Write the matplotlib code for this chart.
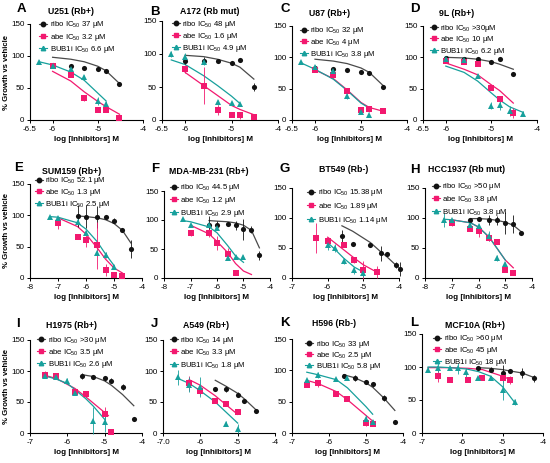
import matplotlib
matplotlib.use("Agg")
import matplotlib.pyplot as plt
from matplotlib.lines import Line2D

plt.rcParams['font.family'] = ['Liberation Sans', 'DejaVu Sans']
plt.rcParams['mathtext.default'] = 'regular'

W, H = 550, 463

# colours
RIBO_C, RIBO_L = '#121212', '#4a4a4a'
ABE_C, ABE_L = '#f2196f', '#f2196f'
BUB_C, BUB_L = '#17a09c', '#17a09c'

# ---- data: x = log M, y = % growth, e = error, fit = curve height ----
# A  U251
A_ribo = dict(x=[-6, -5.6, -5.3, -5, -4.82, -4.52], y=[86, 85, 81, 79, 77, 56], e=[3, 3, 3, 3, 2, 2],
              fit=[98, 95, 91, 84, 77, 57])
A_abe = dict(x=[-6, -5.6, -5.3, -5, -4.82, -4.52], y=[84, 71, 34, 16, 16, 3], e=[3, 4, 4, 3, 3, 2],
             fit=[76, 61, 44, 29, 21, 9])
A_bub = dict(x=[-6.3, -6, -5.6, -5.3, -5, -4.82], y=[91, 85, 80, 67, 30, 25], e=[2, 3, 3, 4, 6, 4],
             fit=[91, 86, 75, 62, 42, 30])
# B  A172
B_ribo = dict(x=[-6, -5.6, -5.3, -5, -4.82, -4.52], y=[90, 90, 90, 87, 91, 50], e=[5, 5, 2, 3, 2, 6],
              fit=[98, 96, 92, 86, 80, 62])
B_abe = dict(x=[-6, -5.6, -5.3, -5, -4.82, -4.52], y=[77, 52, 15, 8, 7, 5], e=[6, 28, 8, 2, 5, 2],
             fit=[72, 52, 37, 22, 16, 8])
B_bub = dict(x=[-6.3, -6, -5.6, -5.3, -5, -4.82], y=[100, 96, 88, 27, 25, 24], e=[4, 5, 4, 4, 2, 2],
             fit=[91, 84, 67, 52, 36, 25])
# C  U87
C_ribo = dict(x=[-6, -5.6, -5.3, -5, -4.82, -4.52], y=[83, 81, 79, 77, 75, 52], e=[3, 3, 3, 3, 2, 2],
              fit=[97, 94, 90, 83, 76, 55])
C_abe = dict(x=[-6, -5.6, -5.3, -5, -4.82, -4.52], y=[80, 72, 46, 16, 17, 15], e=[3, 3, 4, 5, 4, 3],
             fit=[80, 66, 48, 28, 20, 14])
C_bub = dict(x=[-6.3, -6, -5.6, -5.3, -5, -4.82], y=[92, 85, 78, 38, 12, 8], e=[2, 3, 3, 4, 3, 2],
             fit=[91, 81, 65, 47, 27, 19])
# D  9L
D_ribo = dict(x=[-6, -5.6, -5.3, -5, -4.82, -4.52], y=[99, 98, 98, 93, 97, 74], e=[3, 3, 3, 2, 2, 3],
              fit=[100, 99, 97, 93, 89, 81])
D_abe = dict(x=[-6, -5.6, -5.3, -5, -4.82, -4.52], y=[94, 92, 90, 51, 33, 11], e=[3, 3, 4, 2, 4, 8],
             fit=[91, 81, 72, 56, 47, 27])
D_bub = dict(x=[-6, -5.6, -5.3, -5, -4.82, -4.6, -4.3], y=[98, 96, 71, 23, 24, 14, 10],
             e=[3, 3, 2, 5, 8, 8, 4], fit=[86, 76, 62, 43, 32, 21, 12])
# E  SUM159
E_ribo = dict(x=[-6.3, -6, -5.6, -5.3, -5, -4.7, -4.4], y=[99, 98, 97, 97, 91, 77, 46],
              e=[18, 18, 18, 3, 4, 3, 14], fit=[99, 98, 96, 93, 87, 76, 56])
E_abe = dict(x=[-7, -6.3, -6, -5.6, -5.3, -5, -4.7], y=[88, 65, 60, 52, 13, 4, 3],
             e=[10, 3, 10, 38, 10, 2, 1], fit=[96, 82, 70, 48, 30, 16, 8])
E_bub = dict(x=[-7.3, -7, -6.3, -6, -5.6, -5.3, -5], y=[97, 95, 90, 72, 40, 37, 18],
             e=[2, 3, 4, 4, 4, 5, 3], fit=[98, 97, 88, 78, 58, 38, 20])
# F  MDA-MB-231
F_ribo = dict(x=[-6.3, -6, -5.6, -5.3, -5, -4.7, -4.4], y=[92, 92, 93, 91, 84, 83, 39],
              e=[15, 7, 4, 8, 18, 6, 8], fit=[99, 98, 97, 95, 91, 82, 52])
F_abe = dict(x=[-7, -6.3, -6, -5.6, -5.3], y=[77, 77, 60, 42, 9], e=[5, 7, 12, 10, 3],
             fx=[-7, -6.3, -6, -5.6, -5.3, -5, -4.7], fit=[91, 76, 63, 44, 25, 12, 6])
F_bub = dict(x=[-7.3, -7, -6.3, -6, -5.6, -5.3, -5], y=[102, 91, 92, 86, 34, 36, 37],
             e=[2, 2, 3, 4, 3, 3, 2], fit=[99, 97, 88, 78, 56, 38, 27])
# G  BT549
G_ribo = dict(x=[-5.6, -5.3, -4.8, -4.5, -4.35, -4.08, -3.98], y=[70, 56, 55, 41, 40, 22, 15],
              e=[10, 2, 2, 12, 2, 5, 12], fit=[87, 78, 59, 43, 36, 21, 17])
G_abe = dict(x=[-6.33, -6, -5.55, -5.25, -5, -4.63], y=[67, 62, 55, 30, 14, 10], e=[25, 5, 4, 5, 15, 10],
             fx=[-6, -5.55, -5.25, -5, -4.63], fit=[68, 47, 33, 22, 10])
G_bub = dict(x=[-6, -5.8, -5.55, -5.25, -5], y=[55, 50, 29, 13, 8], e=[8, 6, 5, 6, 6],
             fit=[59, 48, 33, 18, 10])
# H  HCC1937
H_ribo = dict(x=[-6.3, -6, -5.6, -5.3, -5, -4.7, -4.4], y=[97, 98, 97, 96, 92, 90, 75],
              e=[3, 3, 8, 8, 18, 15, 3], fit=[99, 99, 98, 96, 93, 88, 77])
H_abe = dict(x=[-7, -6.3, -6, -5.6, -5.3, -5, -4.7], y=[92, 82, 78, 66, 60, 14, 9],
             e=[5, 3, 10, 5, 3, 4, 4], fit=[97, 92, 85, 68, 49, 30, 17])
H_bub = dict(x=[-7.3, -7, -6.3, -6, -5.6, -5.3, -5], y=[97, 96, 88, 87, 70, 33, 23],
             e=[12, 3, 3, 3, 8, 5, 3], fit=[98, 97, 92, 85, 68, 49, 30])
# I  H1975
I_ribo = dict(x=[-5.6, -5.3, -5, -4.82, -4.52, -4.22], y=[92, 91, 88, 84, 74, 22], e=[5, 3, 4, 4, 5, 2],
              fit=[94, 91, 84, 77, 62, 44])
I_abe = dict(x=[-6.6, -6.3, -5.8, -5.5, -5, -4.82], y=[94, 92, 66, 63, 30, 2], e=[6, 4, 3, 4, 12, 1],
             fx=[-6.6, -6.3, -5.8, -5.5, -5, -4.9], fit=[93, 88, 72, 58, 33, 28])
I_bub = dict(x=[-6.6, -6.3, -6, -5.8, -5.3, -5], y=[92, 90, 84, 65, 20, 18], e=[3, 3, 5, 3, 22, 16],
             fx=[-6.6, -6.3, -6, -5.8, -5.5, -5.3, -5], fit=[92, 87, 80, 70, 55, 43, 22])
# J  A549
J_ribo = dict(x=[-5.6, -5.3, -5, -4.82, -4.52], y=[71, 71, 62, 51, 36], e=[4, 5, 4, 2, 3],
              fit=[85, 75, 64, 55, 38])
J_abe = dict(x=[-6.3, -6, -5.6, -5.3, -5], y=[80, 67, 52, 47, 34], e=[12, 6, 3, 3, 3],
             fit=[86, 77, 60, 45, 30])
J_bub = dict(x=[-6.6, -6.3, -6, -5.3, -5], y=[90, 78, 74, 15, 7], e=[12, 12, 16, 4, 7],
             fx=[-6.6, -6.3, -6, -5.6, -5.3, -5], fit=[88, 80, 68, 50, 33, 16])
# K  H596
K_ribo = dict(x=[-5.6, -5.3, -5, -4.82, -4.52, -4.22], y=[91, 88, 82, 78, 56, 18], e=[3, 5, 2, 4, 5, 2],
              fit=[93, 88, 80, 73, 56, 36])
K_abe = dict(x=[-6.6, -6.3, -5.8, -5.5, -5, -4.82], y=[76, 79, 63, 55, 16, 14], e=[3, 6, 3, 3, 5, 3],
             fit=[84, 79, 66, 53, 28, 19])
K_bub = dict(x=[-6.6, -6.3, -5.8, -5.5, -5, -4.82], y=[84, 92, 86, 88, 22, 18], e=[2, 5, 2, 3, 6, 2],
             fit=[97, 93, 85, 72, 42, 30])
# L  MCF10A
L_ribo = dict(x=[-5.6, -5.3, -5, -4.82, -4.52, -4.22], y=[99, 96, 91, 94, 91, 83], e=[2, 4, 12, 3, 8, 5],
              fit=[99, 98, 96, 94, 91, 84])
L_abe = dict(x=[-6.6, -6.3, -5.85, -5.5, -5, -4.82], y=[87, 80, 80, 83, 84, 80], e=[10, 2, 3, 3, 8, 6],
             fx=[-6.85, -6.6, -6.3, -5.85, -5.5, -5, -4.82], fit=[99, 99, 99, 98, 96, 86, 81])
L_bub = dict(x=[-6.85, -6.6, -6.3, -6.1, -5.9, -5.6, -5.3, -5, -4.7],
             y=[96, 99, 98, 98, 92, 83, 83, 65, 47], e=[4, 7, 3, 8, 7, 3, 3, 15, 5],
             fit=[100, 100, 99, 98, 97, 93, 86, 70, 46])

letters = list("ABCDEFGHIJKL")
titles = ["U251 (Rb+)", "A172 (Rb mut)", "U87 (Rb+)", "9L (Rb+)",
          "SUM159 (Rb+)", "MDA-MB-231 (Rb+)", "BT549 (Rb-)", "HCC1937 (Rb mut)",
          "H1975 (Rb+)", "A549 (Rb+)", "H596 (Rb-)", "MCF10A (Rb+)"]
ribo_ic = ["37 μM", "48 μM", "32 μM", ">30μM", "52.1 μM", "44.5 μM",
           "15.38 μM", ">50 μM", ">30 μM", "14 μM", "33 μM", ">60 μM"]
abe_ic = ["3.2 μM", "1.6 μM", "4 μM", "10 μM", "1.3 μM", "1.2 μM",
          "1.89 μM", "3.8 μM", "3.5 μM", "3.3 μM", "2.5 μM", "45 μM"]
bub_ic = ["6.6 μM", "4.9 μM", "3.8 μM", "6.2 μM", "2.5 μM", "2.9 μM",
          "1.14 μM", "3.8 μM", "2.6 μM", "1.8 μM", "5.8 μM", "18 μM"]
series = [(A_ribo, A_abe, A_bub), (B_ribo, B_abe, B_bub), (C_ribo, C_abe, C_bub), (D_ribo, D_abe, D_bub),
          (E_ribo, E_abe, E_bub), (F_ribo, F_abe, F_bub), (G_ribo, G_abe, G_bub), (H_ribo, H_abe, H_bub),
          (I_ribo, I_abe, I_bub), (J_ribo, J_abe, J_bub), (K_ribo, K_abe, K_bub), (L_ribo, L_abe, L_bub)]
xlims = [(-6.5, -4)] * 4 + [(-8, -4), (-8, -4), (-7, -4), (-8, -4)] + [(-7, -4)] * 4
xticks = [[-6.5, -6, -5, -4]] * 4 + [[-8, -7, -6, -5, -4]] * 2 + [[-7, -6, -5, -4]] + \
         [[-8, -7, -6, -5, -4]] + [[-7, -6, -5, -4]] * 4
xticklabels = [["-6.5", "-6", "-5", "-4"]] * 4 + [["-8", "-7", "-6", "-5", "-4"]] * 2 + \
              [["-7", "-6", "-5", "-4"]] + [["-8", "-7", "-6", "-5", "-4"]] + \
              [["-7", "-6", "-5", "-4"], ["-7.0", "-6", "-5", "-4"], ["-7", "-6", "-5", "-4"],
               ["-7", "-6", "-5", "-4"]]

# layout in pixels: axes (left, right, top, bottom), letter, title, legend anchor
boxes = [(30, 143, 24, 120), (162, 278, 21, 120), (292, 407, 26, 120), (423, 537, 26, 120),
         (30, 142, 184, 278), (164, 270, 191, 278), (292, 399, 188, 278), (425, 532, 188, 278),
         (30, 142, 340, 433), (163, 275, 340, 433), (292, 403, 339, 433), (422, 543, 334, 433)]
letter_pos = [(21, 9), (155, 12), (285, 9), (415, 9), (19, 168), (155, 169), (285, 169), (415, 170),
              (18, 324), (154, 324), (285, 323), (414, 323)]
title_pos = [(71, 12), (210, 12), (330, 13), (457, 13), (72, 171), (209, 171), (344, 170), (467, 170),
             (71, 326), (206, 326), (334, 324), (475, 325)]
legend_pos = [(39, 24), (172, 23), (300, 30), (430, 27), (35, 180), (170, 187), (307, 192), (432, 186),
              (37, 339), (170, 339), (305, 343), (433, 338)]
legend_gap = [9, 9, 8.5, 8.5, 8.5, 9.5, 10.5, 9.5, 9, 9.5, 8, 8.5]

fig = plt.figure(figsize=(W / 100, H / 100), dpi=100)

for i in range(12):
    l, r, t, b = boxes[i]
    ax = fig.add_axes([l / W, 1 - b / H, (r - l) / W, (b - t) / H])
    styles = [(RIBO_C, RIBO_L, 'o'), (ABE_C, ABE_L, 's'), (BUB_C, BUB_L, '^')]
    for s, (c, lc, m) in zip(series[i], styles):
        fx = s.get('fx', s['x'])
        ax.plot(fx, s['fit'], color=lc, lw=0.9, zorder=2)
        ax.errorbar(s['x'], s['y'], yerr=s['e'], fmt=m, color=c, ms=3.7 if m != '^' else 4.0,
                    mew=0, elinewidth=0.6, capsize=1.3, capthick=0.6, zorder=3, clip_on=False)
    ax.set_xlim(*xlims[i])
    ax.set_ylim(0, 150)
    ax.set_xticks(xticks[i])
    ax.set_xticklabels(xticklabels[i])
    ax.set_yticks([0, 50, 100, 150])
    for sp in ['top', 'right']:
        ax.spines[sp].set_visible(False)
    for sp in ['left', 'bottom']:
        ax.spines[sp].set_linewidth(0.8)
    ax.tick_params(direction='out', length=2.5, width=0.7, labelsize=5.8, pad=1.5)
    ax.set_xlabel("log [Inhibitors] M", fontsize=5.8, fontweight='bold', labelpad=2.5)
    if i % 4 == 0:
        ax.set_ylabel("% Growth vs vehicle", fontsize=5.6, fontweight='bold', labelpad=0.5)

    handles = [Line2D([], [], color=RIBO_L, marker='o', ms=3.2, mfc=RIBO_C, mec=RIBO_C, lw=0.8),
               Line2D([], [], color=ABE_L, marker='s', ms=3.2, mfc=ABE_C, mec=ABE_C, lw=0.8),
               Line2D([], [], color=BUB_L, marker='^', ms=3.2, mfc=BUB_C, mec=BUB_C, lw=0.8)]
    labels = ["ribo IC$_{50}$ " + ribo_ic[i], "abe IC$_{50}$ " + abe_ic[i],
              "BUB1i IC$_{50}$ " + bub_ic[i]]
    lx, ly = legend_pos[i]
    ax.legend(handles, labels, loc='upper left', bbox_to_anchor=(lx / W, 1 - (ly - 4.5) / H),
              bbox_transform=fig.transFigure, frameon=False, fontsize=5.6, handlelength=1.0,
              handletextpad=0.35, borderpad=0, borderaxespad=0,
              labelspacing=(legend_gap[i] - 7.8) / 7.8)

    fig.text(letter_pos[i][0] / W, 1 - letter_pos[i][1] / H, letters[i], fontsize=9.5, fontweight='bold',
             ha='center', va='center')
    fig.text(title_pos[i][0] / W, 1 - title_pos[i][1] / H, titles[i], fontsize=6.3, fontweight='bold',
             ha='center', va='center')

fig.savefig("out.png", dpi=100)
